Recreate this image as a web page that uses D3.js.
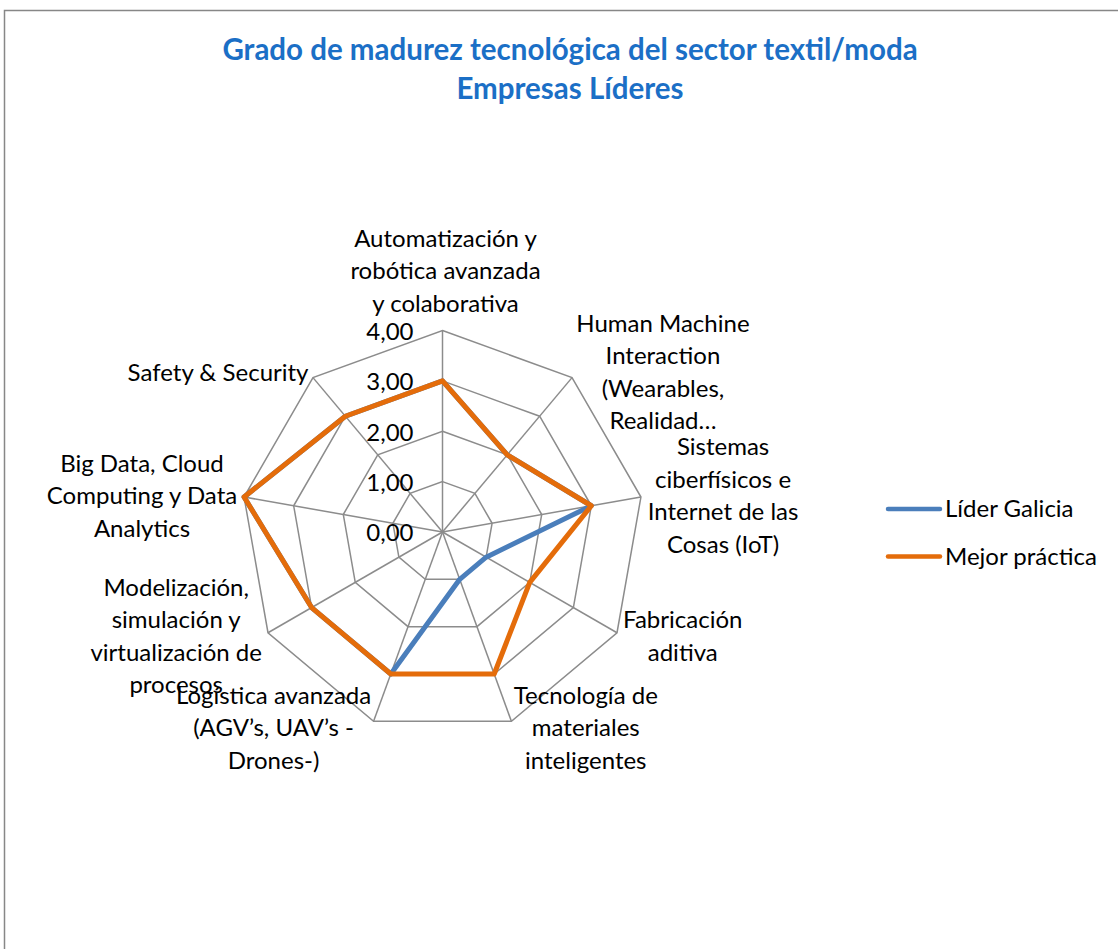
<!DOCTYPE html>
<html>
<head>
<meta charset="utf-8">
<script src="https://cdn.jsdelivr.net/npm/d3@7"></script>
<style>
  body { margin: 0; background: #fff; }
  text { font-family: Lato, "Open Sans", sans-serif; }
</style>
</head>
<body>
<svg id="chart"></svg>
<script>
const categories = [
  ["Automatización y", "robótica avanzada", "y colaborativa"],
  ["Human Machine", "Interaction", "(Wearables,", "Realidad…"],
  ["Sistemas", "ciberfísicos e", "Internet de las", "Cosas (IoT)"],
  ["Fabricación", "aditiva"],
  ["Tecnología de", "materiales", "inteligentes"],
  ["Logística avanzada", "(AGV’s, UAV’s -", "Drones-)"],
  ["Modelización,", "simulación y", "virtualización de", "procesos"],
  ["Big Data, Cloud", "Computing y Data", "Analytics"],
  ["Safety & Security"]
];
const liderGalicia = [3, 2, 3, 1, 1, 3, 3, 4, 3];
const mejorPractica = [3, 2, 3, 2, 3, 3, 3, 4, 3];
const tickValues = [0, 1, 2, 3, 4];
const seriesNames = ["Líder Galicia", "Mejor práctica"];
const seriesColors = ["#4A7EBB", "#E46C0A"];

const width = 1118, height = 949;
const cx = 442.5, cy = 532, R = 201.5;
const fontSize = 24, lineH = 32.5;

const svg = d3.select("#chart").attr("width", width).attr("height", height);

// chart frame (runs past the right and bottom of the window)
svg.append("rect")
  .attr("x", 4.5).attr("y", 10.5)
  .attr("width", width + 20).attr("height", height + 20)
  .attr("fill", "#fff").attr("stroke", "#878787").attr("stroke-width", 1.5);

// title
const titleLines = ["Grado de madurez tecnológica del sector textil/moda", "Empresas Líderes"];
svg.selectAll(".title")
  .data(titleLines)
  .enter().append("text")
    .attr("class", "title")
    .attr("x", 570).attr("y", (d, i) => 50 + i * 39)
    .attr("dy", "0.35em")
    .attr("text-anchor", "middle")
    .attr("font-size", 29.5).attr("font-weight", "bold").attr("fill", "#1B6FC6")
    .text(d => d);

const n = categories.length;
const angle = d3.scaleLinear().domain([0, n]).range([0, 2 * Math.PI]);
const r = d3.scaleLinear().domain([0, 4]).range([0, R]);

const g = svg.append("g").attr("transform", `translate(${cx},${cy})`);

function pt(i, v) {
  const a = angle(i);
  return [Math.sin(a) * r(v), -Math.cos(a) * r(v)];
}

// grid rings
g.selectAll(".ring")
  .data(tickValues.filter(t => t > 0))
  .enter().append("polygon")
    .attr("class", "ring")
    .attr("points", t => d3.range(n).map(i => pt(i, t).join(",")).join(" "))
    .attr("fill", "none").attr("stroke", "#8C8C8C").attr("stroke-width", 1.5);

// spokes
g.selectAll(".spoke")
  .data(d3.range(n))
  .enter().append("line")
    .attr("class", "spoke")
    .attr("x1", 0).attr("y1", 0)
    .attr("x2", i => pt(i, 4)[0]).attr("y2", i => pt(i, 4)[1])
    .attr("stroke", "#8C8C8C").attr("stroke-width", 1.5);

// tick labels
const fmt = v => d3.format(".2f")(v).replace(".", ",");
g.selectAll(".tick")
  .data(tickValues)
  .enter().append("text")
    .attr("class", "tick")
    .attr("x", -29).attr("y", t => -r(t) + 1)
    .attr("dy", "0.35em")
    .attr("text-anchor", "end")
    .attr("font-size", fontSize).attr("fill", "#000")
    .text(fmt);

// series
const line = d3.line().curve(d3.curveLinearClosed);
[liderGalicia, mejorPractica].forEach((vals, k) => {
  g.append("path")
    .attr("d", line(vals.map((v, i) => pt(i, v))))
    .attr("fill", "none")
    .attr("stroke", seriesColors[k]).attr("stroke-width", 5)
    .attr("stroke-linejoin", "round");
});

// category labels
categories.forEach((lines, i) => {
  const a = angle(i);
  const s = Math.sin(a), c = Math.cos(a);
  const ax = s * (R + 7), ay = -c * (R + 7);
  const lab = g.append("text").attr("font-size", fontSize).attr("fill", "#000");
  const spans = lines.map(l => lab.append("tspan").text(l));
  const w = d3.max(spans, sp => sp.node().getComputedTextLength());
  const h = lines.length * lineH;
  let x0, top;
  if (Math.abs(s) < 0.05) {
    x0 = ax + 3; top = ay - h - 4;
  } else {
    x0 = s > 0 ? ax + w / 2 : ax - w / 2;
    top = ay - h / 2;
  }
  spans.forEach((sp, j) => {
    sp.attr("x", x0).attr("y", top + lineH * (j + 0.5)).attr("dy", "0.35em")
      .attr("text-anchor", "middle");
  });
});

// legend
const leg = svg.append("g");
seriesNames.forEach((name, k) => {
  const y = 509 + k * 47.5;
  leg.append("line")
    .attr("x1", 888).attr("x2", 940).attr("y1", y).attr("y2", y)
    .attr("stroke", seriesColors[k]).attr("stroke-width", 4.5)
    .attr("stroke-linecap", "round");
  leg.append("text")
    .attr("x", 945).attr("y", y).attr("dy", "0.35em")
    .attr("font-size", fontSize).attr("fill", "#000")
    .text(name);
});
</script>
</body>
</html>
